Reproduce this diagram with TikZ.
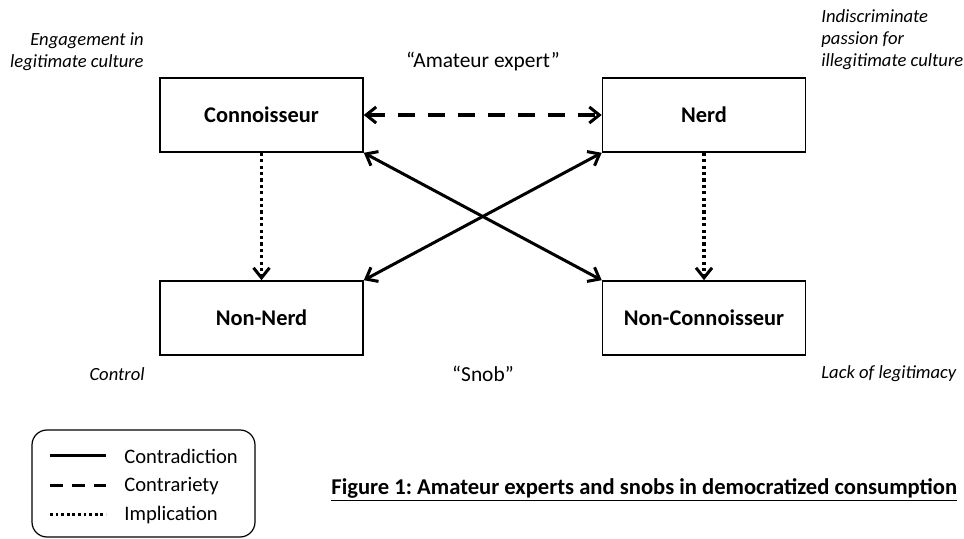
\documentclass[tikz,border=0pt]{standalone}
\usepackage{fontspec}
\setmainfont{Carlito}
\usetikzlibrary{arrows.meta, positioning}
\frenchspacing

\begin{document}
\begin{tikzpicture}[
  x=0.5pt, y=-0.5pt,
  carre/.style={draw, line width=0.8pt, minimum width=101.5pt, minimum height=37pt, font=\fontsize{11.2}{13}\selectfont\bfseries},
  coin/.style={font=\fontsize{9.3}{11}\selectfont\itshape, inner sep=0pt},
  guil/.style={font=\fontsize{10.7}{13}\selectfont, inner sep=0pt},
  pointe/.style={{Straight Barb[length=5pt, width=8pt, line width=1.5pt]}-{Straight Barb[length=5pt, width=8pt, line width=1.5pt]}},
  contradiction/.style={pointe, line width=1.5pt},
  contrariete/.style={pointe, line width=1.6pt, dash pattern=on 8.5pt off 6.5pt},
  implication/.style={-{Straight Barb[length=5pt, width=8pt, line width=1.5pt]}, line width=1.8pt, dash pattern=on 1.6pt off 1.6pt}
]
  \useasboundingbox (0,0) rectangle (964,539);
  % carre semiotique
  \node[carre] (conn) at (261.5,115) {Connoisseur};
  \node[carre] (nerd) at (704,115) {Nerd};
  \node[carre] (nonnerd) at (261.5,318) {Non-Nerd};
  \node[carre] (nonconn) at (704,318) {Non-Connoisseur};
  \draw[contrariete] (conn.east) -- (nerd.west);
  \draw[implication] (conn.south) -- (nonnerd.north);
  \draw[implication] (nerd.south) -- (nonconn.north);
  \draw[contradiction] (conn.south east) -- (nonconn.north west);
  \draw[contradiction] (nerd.south west) -- (nonnerd.north east);
  % etiquettes
  \node[coin, anchor=east, align=right] (engag) at (144,52) {Engagement in\\legitimate culture};
  \node[coin, anchor=west, align=left] (indis) at (821,40) {Indiscriminate\\passion for\\illegitimate culture};
  \node[coin, anchor=east] (ctrl) at (145,374) {Control};
  \node[coin, anchor=west] (lack) at (821,374) {Lack of legitimacy};
  \node[guil] (amat) at (483,62) {“Amateur expert”};
  \node[guil] (snob) at (483,374) {“Snob”};
  % legende
  \draw[line width=0.6pt, rounded corners=7.5pt] (32,430) rectangle (255,537);
  \draw[line width=1.5pt] (50,456) -- (106,456);
  \draw[line width=1.5pt, dash pattern=on 6.5pt off 4.5pt] (50,486) -- (106,486);
  \draw[line width=1.5pt, dash pattern=on 1.4pt off 1.4pt] (50,515) -- (106,515);
  \node[anchor=west, inner sep=0pt, font=\fontsize{10.3}{12}\selectfont] (l1) at (124,456) {Contradiction};
  \node[anchor=west, inner sep=0pt, font=\fontsize{10.3}{12}\selectfont] (l2) at (124,486) {Contrariety};
  \node[anchor=west, inner sep=0pt, font=\fontsize{10.3}{12}\selectfont] (l3) at (124,515) {Implication};
  % titre
  \node[anchor=west, inner sep=0pt, font=\fontsize{11.3}{13}\selectfont\bfseries] (titre) at (331,490) {\underline{Figure 1: Amateur experts and snobs in democratized consumption}};
\end{tikzpicture}
\end{document}
